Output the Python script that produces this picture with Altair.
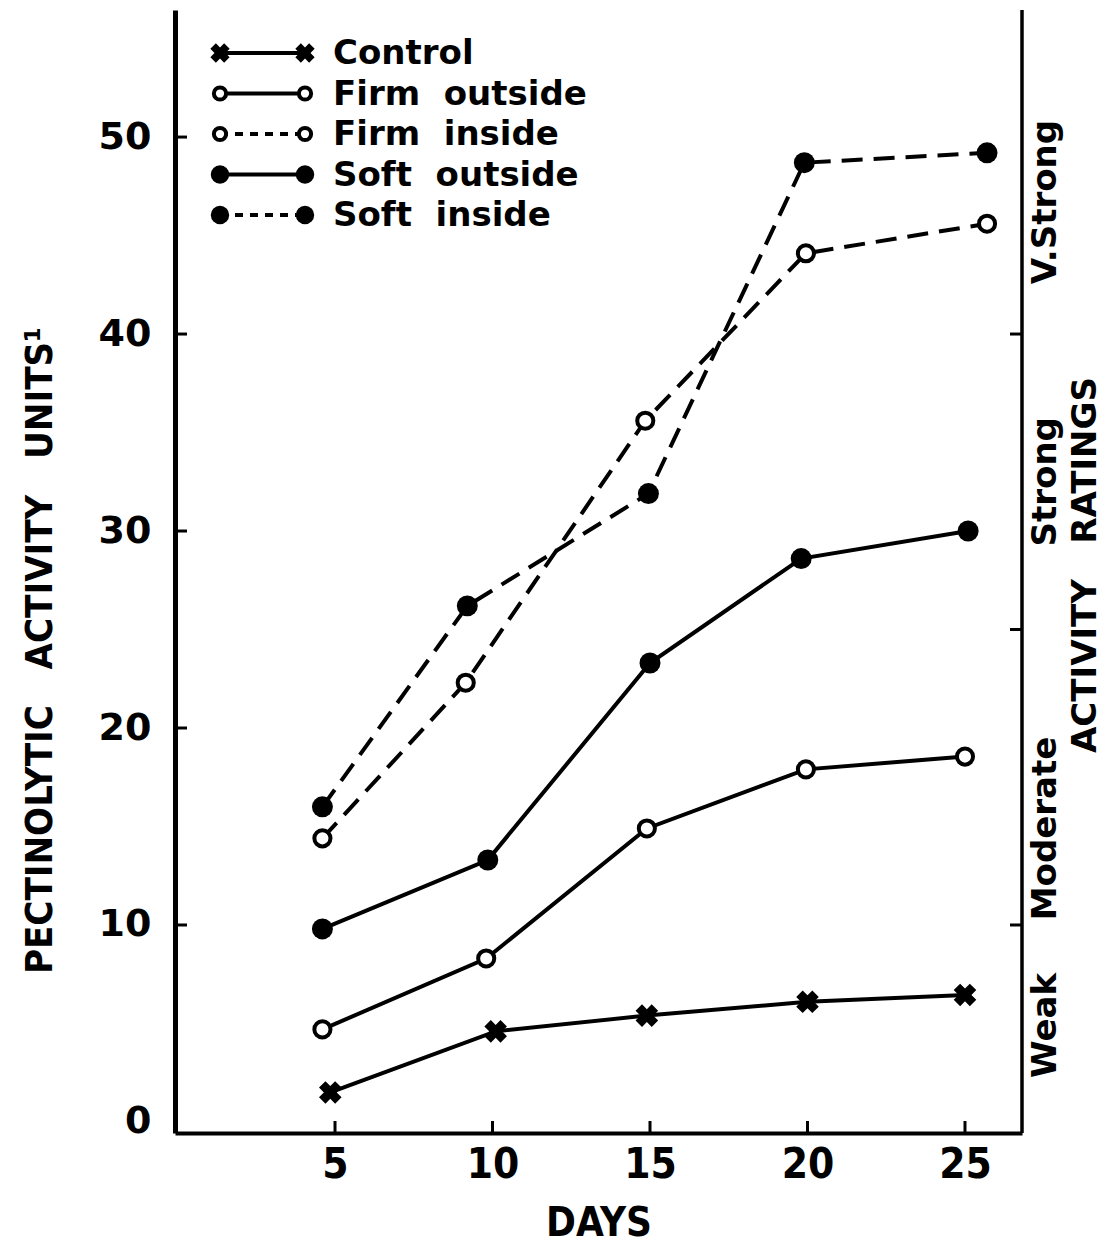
import altair as alt
import pandas as pd

# ---------------- data ----------------
series = ["Control", "Firm outside", "Firm inside", "Soft outside", "Soft inside"]

control_days = [4.85, 10.1, 14.9, 20.0, 25.0]
control_units = [1.5, 4.6, 5.4, 6.1, 6.45]

firm_out_days = [4.6, 9.8, 14.9, 19.95, 25.0]
firm_out_units = [4.7, 8.3, 14.9, 17.9, 18.55]

firm_in_days = [4.6, 9.15, 14.85, 19.95, 25.7]
firm_in_units = [14.4, 22.3, 35.6, 44.1, 45.6]

soft_out_days = [4.6, 9.85, 15.0, 19.8, 25.1]
soft_out_units = [9.8, 13.3, 23.3, 28.6, 30.0]

soft_in_days = [4.6, 9.2, 14.95, 19.9, 25.7]
soft_in_units = [16.0, 26.2, 31.9, 48.7, 49.2]

x_ticks = [5, 10, 15, 20, 25]
y_ticks = [0, 10, 20, 30, 40, 50]
rating_bounds = [10, 25, 40]
rating_names = ["Weak", "Moderate", "Strong", "V.Strong"]
rating_centers = [4.9, 14.9, 32.5, 46.7]

# ---------------- tables ----------------
all_days = [control_days, firm_out_days, firm_in_days, soft_out_days, soft_in_days]
all_units = [control_units, firm_out_units, firm_in_units, soft_out_units, soft_in_units]
rows = []
for name, ds, us in zip(series, all_days, all_units):
    for d, u in zip(ds, us):
        rows.append({"series": name, "day": d, "units": u})
df = pd.DataFrame(rows)

W, H = 847, 1123
BOLD = "DejaVu Sans"
NARROW = "Liberation Sans Narrow, DejaVu Sans Condensed, Roboto Condensed, sans-serif"
DASH = [21, 11]

xscale = alt.Scale(domain=[-0.08, 26.81], nice=False, zero=False)
yscale = alt.Scale(domain=[-0.56, 56.45], nice=False, zero=False)

X = alt.X("day:Q", scale=xscale, axis=alt.Axis(
    values=x_ticks, ticks=False, grid=False, domain=True, domainColor="black",
    domainWidth=4, labelFont=NARROW, labelFontSize=42, labelFontWeight="bold",
    labelColor="black", labelPadding=11, title="DAYS", titleFont=NARROW,
    titleFontSize=40, titleFontWeight="bold", titleColor="black", titlePadding=18))
Y = alt.Y("units:Q", scale=yscale, axis=alt.Axis(
    values=y_ticks, ticks=False, grid=False, domain=True, domainColor="black",
    domainWidth=5, labelFont=BOLD, labelFontSize=38, labelFontWeight="bold",
    labelColor="black", labelPadding=24,
    title="PECTINOLYTIC\u00a0\u00a0\u00a0ACTIVITY\u00a0\u00a0\u00a0UNITS\u00b9",
    titleFont=NARROW, titleFontSize=38, titleFontWeight="bold", titleColor="black",
    titleAngle=270, titleAlign="center", titleBaseline="middle",
    titleX=-135, titleY=640))

base = alt.Chart(df)

solid = base.transform_filter(
    "indexof(datum.series, 'inside') < 0").mark_line(
    color="black", strokeWidth=4).encode(x=X, y=Y, detail="series:N")
dashed = base.transform_filter(
    "indexof(datum.series, 'inside') >= 0").mark_line(
    color="black", strokeWidth=4, strokeDash=DASH).encode(x=X, y=Y, detail="series:N")

crosses = base.transform_filter("datum.series == 'Control'").mark_point(
    shape="cross", angle=45, filled=True, color="black", size=520, opacity=1
).encode(x=X, y=Y)
open_pts = base.transform_filter("indexof(datum.series, 'Firm') == 0").mark_point(
    shape="circle", filled=False, fill="white", fillOpacity=1, stroke="black",
    strokeWidth=4, size=260, opacity=1).encode(x=X, y=Y)
full_pts = base.transform_filter("indexof(datum.series, 'Soft') == 0").mark_point(
    shape="circle", filled=True, color="black", size=440, opacity=1).encode(x=X, y=Y)

# inward ticks
xt = alt.Chart(pd.DataFrame({"day": x_ticks})).mark_rule(
    color="black", strokeWidth=3).encode(x=X, y=alt.value(H), y2=alt.value(H - 12))
yt = alt.Chart(pd.DataFrame({"units": y_ticks[1:]})).mark_rule(
    color="black", strokeWidth=3).encode(y=Y, x=alt.value(0), x2=alt.value(12))
rt = alt.Chart(pd.DataFrame({"units": rating_bounds})).mark_rule(
    color="black", strokeWidth=3).encode(y=Y, x=alt.value(W - 12), x2=alt.value(W))
right_line = alt.Chart(pd.DataFrame({"units": [0]})).mark_rule(
    color="black", strokeWidth=3.5).encode(x=alt.value(W), y=alt.value(0), y2=alt.value(H))

rating_text = alt.Chart(pd.DataFrame({"units": rating_centers, "name": rating_names})).mark_text(
    angle=270, align="center", baseline="middle", font=BOLD, fontSize=34,
    fontWeight="bold", color="black").encode(y=Y, x=alt.value(W + 24), text="name:N")
right_title = alt.Chart(pd.DataFrame({"t": ["ACTIVITY\u00a0\u00a0\u00a0RATINGS"]})).mark_text(
    angle=270, align="center", baseline="middle", font=BOLD, fontSize=34,
    fontWeight="bold", color="black").encode(x=alt.value(W + 64), y=alt.value(555), text="t:N")

# manual legend
leg_layers = []
sym_x = [45, 130]
for i, name in enumerate(series):
    yy = 43 + 40.5 * i
    one = alt.Chart(pd.DataFrame({"series": [name]}))
    dash = [8, 7] if "inside" in name else [1, 0]
    leg_layers.append(one.mark_rule(color="black", strokeWidth=4, strokeDash=dash).encode(
        x=alt.value(sym_x[0]), x2=alt.value(sym_x[1]), y=alt.value(yy)))
    for sx in sym_x:
        if name == "Control":
            m = one.mark_point(shape="cross", angle=45, filled=True, color="black",
                               size=380, opacity=1)
        elif name.startswith("Firm"):
            m = one.mark_point(shape="circle", filled=False, fill="white", fillOpacity=1,
                               stroke="black", strokeWidth=4, size=150, opacity=1)
        else:
            m = one.mark_point(shape="circle", filled=True, color="black", size=340, opacity=1)
        leg_layers.append(m.encode(x=alt.value(sx), y=alt.value(yy)))
    leg_layers.append(one.transform_calculate(
        lab="replace(datum.series, ' ', '\u00a0\u00a0')").mark_text(
        align="left", baseline="middle", font=BOLD, fontSize=34, fontWeight="bold",
        color="black").encode(x=alt.value(158), y=alt.value(yy + 1), text="lab:N"))

chart = alt.layer(
    solid, dashed, open_pts, full_pts, crosses, xt, yt, rt, right_line,
    rating_text, right_title, *leg_layers
).properties(
    width=W, height=H,
    autosize=alt.AutoSizeParams(type="none"),
    padding={"left": 175, "top": 10, "right": 90, "bottom": 110},
    background="white",
).configure_view(stroke=None)

chart.save("out.html", embed_options={"renderer": "svg", "actions": False})
